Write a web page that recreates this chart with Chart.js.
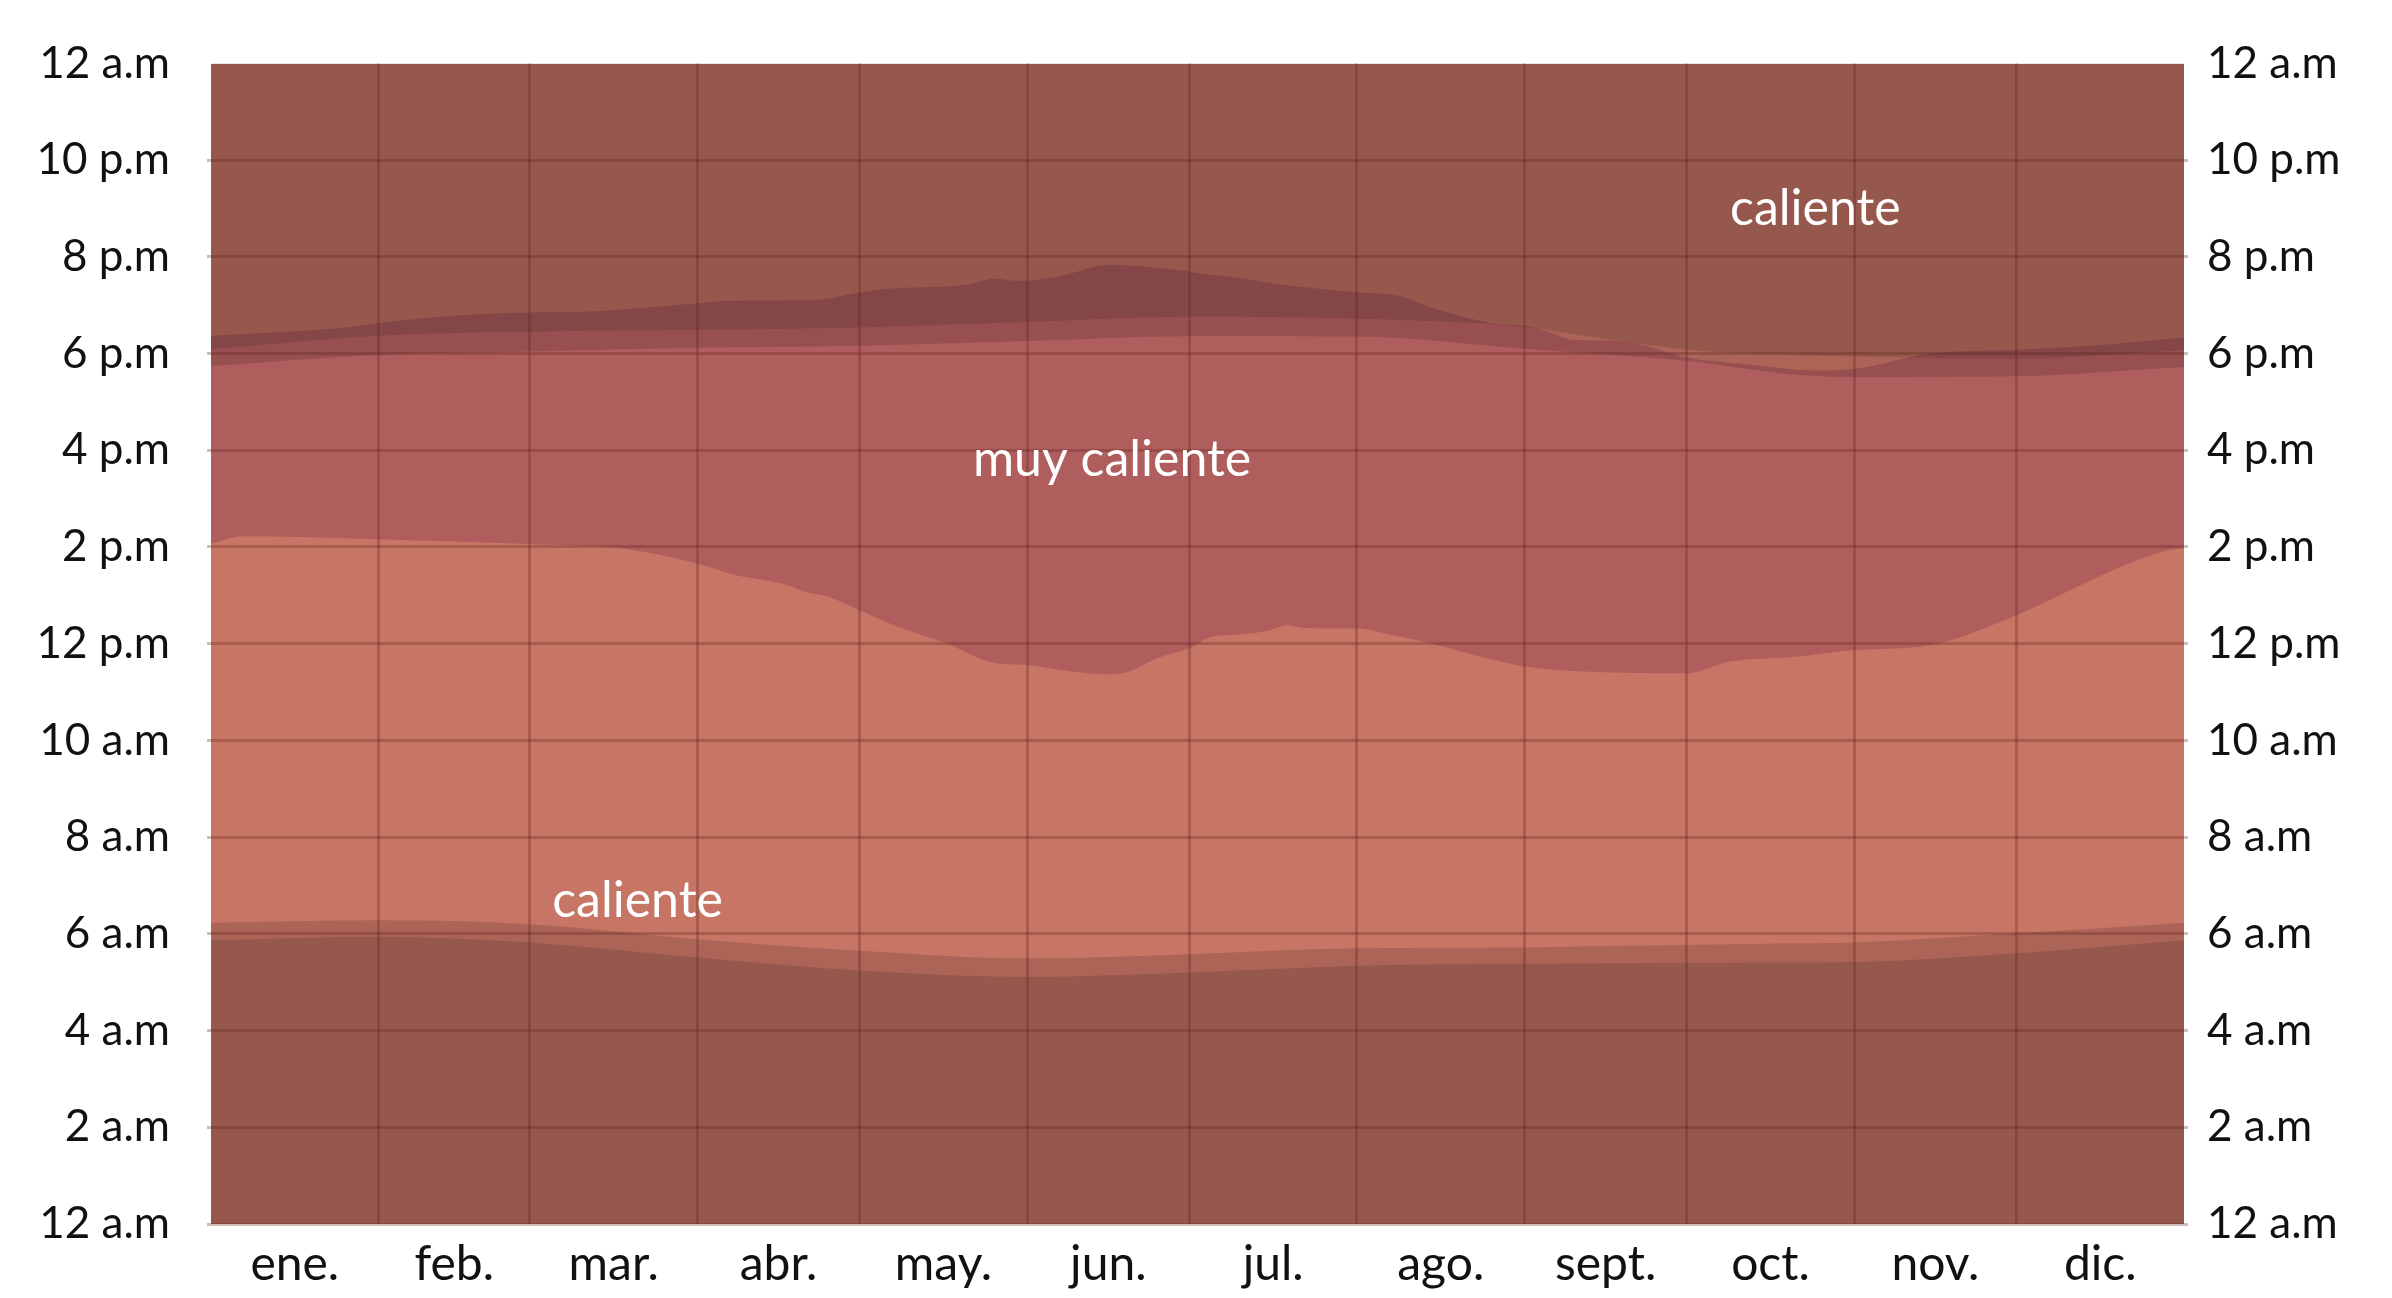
<!DOCTYPE html>
<html>
<head>
<meta charset="utf-8">
<script src="https://cdn.jsdelivr.net/npm/chart.js@4/dist/chart.umd.min.js"></script>
<style>
  body { margin: 0; background: #fff; }
  canvas { display: block; }
</style>
</head>
<body>
<canvas id="chart" width="2392" height="1298"></canvas>
<script>
// months (x axis is day of year, 0..365)
const monthNames = ['ene.', 'feb.', 'mar.', 'abr.', 'may.', 'jun.', 'jul.', 'ago.', 'sept.', 'oct.', 'nov.', 'dic.'];
const monthStarts = [0, 31, 59, 90, 120, 151, 181, 212, 243, 273, 304, 334, 365];
const hourLabels = ['12 a.m', '2 a.m', '4 a.m', '6 a.m', '8 a.m', '10 a.m', '12 p.m',
  '2 p.m', '4 p.m', '6 p.m', '8 p.m', '10 p.m', '12 a.m'];

// sun lines (hours of day)
const sunDays = [0, 31, 59, 90, 120, 151, 181, 212, 243, 258, 273, 290, 304, 334, 365];
const dawnStart = [5.87, 5.94, 5.82, 5.51, 5.24, 5.11, 5.2, 5.34, 5.38, 5.39, 5.4, 5.41, 5.42, 5.6, 5.87];
const sunrise = [6.23, 6.28, 6.2, 5.89, 5.65, 5.49, 5.58, 5.7, 5.72, 5.75, 5.77, 5.8, 5.82, 6.01, 6.23];
const sunset = [17.74, 17.97, 18.04, 18.12, 18.16, 18.26, 18.36, 18.35, 18.1, 17.98, 17.85, 17.6, 17.51, 17.53, 17.72];
const duskEnd = [18.09, 18.37, 18.45, 18.49, 18.54, 18.65, 18.76, 18.72, 18.55, 18.3, 18.08, 17.98, 17.94, 17.9, 18.07];

// "muy caliente" band: start (afternoon) and end (evening)
const hotStartDays = [0, 6, 31, 59, 76, 90, 97, 103, 107, 110, 114, 120, 127, 136, 145, 151, 157, 165, 169, 175, 181,
  185, 190, 196, 199, 202, 207, 212, 218, 227, 235, 243, 255, 273, 281, 293, 304, 318, 334, 342, 354, 362, 365];
const hotStart = [14.07, 14.22, 14.16, 14.06, 13.97, 13.66, 13.42, 13.3, 13.2, 13.07, 12.98, 12.69, 12.35, 12.01, 11.6,
  11.56, 11.46, 11.37, 11.4, 11.7, 11.91, 12.14, 12.19, 12.28, 12.38, 12.33, 12.32, 12.32, 12.19, 11.97, 11.73, 11.53,
  11.42, 11.39, 11.63, 11.73, 11.87, 11.97, 12.59, 13.0, 13.62, 13.93, 13.98];
const hotEndDays = [0, 25, 31, 46, 59, 70, 90, 96, 111, 120, 124, 140, 145, 149, 157, 166, 178, 184, 188, 198, 212,
  220, 224, 231, 238, 244, 248, 252, 258, 264, 273, 284, 297, 304, 318, 334, 352, 365];
const hotEnd = [18.37, 18.54, 18.63, 18.79, 18.85, 18.87, 19.04, 19.09, 19.1, 19.26, 19.33, 19.43, 19.55, 19.5, 19.6,
  19.83, 19.74, 19.64, 19.6, 19.43, 19.27, 19.19, 19.02, 18.78, 18.61, 18.56, 18.43, 18.28, 18.27, 18.2, 17.92, 17.78,
  17.65, 17.68, 18.0, 18.08, 18.2, 18.33];

const COL_WARM = '#c77565';
const COL_HOT = '#b05d5e';
const NIGHT = 'rgba(0, 0, 0, 0.245)';
const TWILIGHT = 'rgba(0, 0, 0, 0.14)';
const GRID = 'rgba(95, 35, 28, 0.3)';
const FONT = 'Lato, "Open Sans", sans-serif';

function points(days, values) {
  return days.map((d, i) => ({ x: d, y: values[i] }));
}

function band(label, data, fill, color, order) {
  return {
    label: label,
    data: data,
    fill: fill,
    backgroundColor: color,
    borderWidth: 0,
    borderColor: 'transparent',
    pointRadius: 0,
    cubicInterpolationMode: 'monotone',
    order: order
  };
}

const datasets = [
  band('base', points([0, 365], [24, 24]), 'start', COL_WARM, 10),            // 0
  band('hotStart', points(hotStartDays, hotStart), false, 'transparent', 9),  // 1
  band('hotEnd', points(hotEndDays, hotEnd), { target: 1 }, COL_HOT, 8),      // 2
  band('dawnStart', points(sunDays, dawnStart), 'start', NIGHT, 7),           // 3
  band('sunrise', points(sunDays, sunrise), { target: 3 }, TWILIGHT, 6),      // 4
  band('duskEnd', points(sunDays, duskEnd), 'end', NIGHT, 5),                 // 5
  band('sunset', points(sunDays, sunset), { target: 5 }, TWILIGHT, 4)         // 6
];

const zoneLabels = {
  text: ['caliente', 'muy caliente', 'caliente'],
  day: [296.8, 166.7, 78.9],
  hour: [20.65, 15.47, 6.34]
};

const zoneLabelPlugin = {
  id: 'zoneLabels',
  afterDraw(chart) {
    const ctx = chart.ctx;
    const x = chart.scales.x;
    const y = chart.scales.y;
    ctx.save();
    ctx.font = '50px ' + FONT;
    ctx.fillStyle = '#ffffff';
    ctx.textAlign = 'center';
    ctx.textBaseline = 'alphabetic';
    zoneLabels.text.forEach((t, i) => {
      ctx.fillText(t, x.getPixelForValue(zoneLabels.day[i]), y.getPixelForValue(zoneLabels.hour[i]));
    });
    ctx.restore();
  }
};

new Chart(document.getElementById('chart').getContext('2d'), {
  type: 'line',
  data: { datasets: datasets },
  plugins: [zoneLabelPlugin],
  options: {
    responsive: false,
    animation: false,
    devicePixelRatio: 1,
    layout: { padding: { top: 57, left: 0, right: 0, bottom: 0 } },
    plugins: { legend: { display: false }, tooltip: { enabled: false } },
    scales: {
      x: {
        type: 'linear',
        min: 0,
        max: 365,
        afterBuildTicks: scale => {
          scale.ticks = monthStarts.slice(1, -1).map(v => ({ value: v }));
        },
        afterFit: scale => { scale.height = 0; },
        ticks: { display: false },
        grid: { color: GRID, lineWidth: 3, drawTicks: false, z: 1 },
        border: { display: false }
      },
      months: {
        type: 'linear',
        position: 'bottom',
        min: 0,
        max: 365,
        afterBuildTicks: scale => {
          scale.ticks = monthNames.map((m, i) => ({ value: (monthStarts[i] + monthStarts[i + 1]) / 2 }));
        },
        afterFit: scale => { scale.height = 74; },
        ticks: {
          autoSkip: false,
          maxRotation: 0,
          padding: 12,
          color: '#111',
          font: { family: FONT, size: 48 },
          callback: (value, index) => monthNames[index]
        },
        grid: { display: false, drawTicks: false },
        border: { display: false }
      },
      y: {
        position: 'left',
        min: 0,
        max: 24,
        afterFit: scale => { scale.width = 211; },
        ticks: {
          stepSize: 2,
          padding: 37,
          color: '#111',
          font: { family: FONT, size: 44 },
          callback: value => hourLabels[value / 2]
        },
        grid: {
          color: c => (c.tick && c.tick.value === 24 ? 'transparent' : GRID),
          lineWidth: 3,
          tickLength: 4,
          z: 1
        },
        border: { display: false }
      },
      y2: {
        position: 'right',
        min: 0,
        max: 24,
        afterFit: scale => { scale.width = 208; },
        ticks: {
          stepSize: 2,
          padding: 19,
          color: '#111',
          font: { family: FONT, size: 44 },
          callback: value => hourLabels[value / 2]
        },
        grid: {
          drawOnChartArea: false,
          color: c => (c.tick && c.tick.value === 24 ? 'transparent' : GRID),
          lineWidth: 3,
          tickLength: 4,
          z: 1
        },
        border: { display: false }
      }
    }
  }
});
</script>
</body>
</html>
